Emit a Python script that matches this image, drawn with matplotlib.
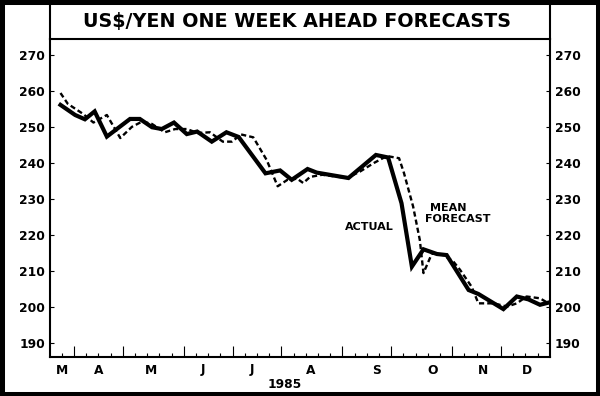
import numpy as np
import matplotlib
matplotlib.use('Agg')
import matplotlib.pyplot as plt
from matplotlib import transforms
from matplotlib.patches import Rectangle
from matplotlib.lines import Line2D

# weeks counted from mid March 1985, yen per US$
actual_week = [-0.1, 1.1, 1.9, 2.7, 3.7, 5.6, 6.4, 7.4, 8.2, 9.2, 10.25, 11.1, 12.3, 13.5,
               14.5, 16.7, 17.9, 18.85, 20.15, 20.9, 23.5, 25.75, 26.75, 27.85, 28.7, 29.65,
               30.75, 31.55, 33.35, 34.15, 36.2, 37.3, 38.25, 39.2, 39.9]
actual_rate = [256.1, 253.3, 252.1, 254.3, 247.3, 252.2, 252.2, 249.9, 249.4, 251.2, 248.0, 248.7,
               245.9, 248.5, 247.2, 237.1, 237.9, 235.3, 238.3, 237.3, 235.8, 242.2, 241.5, 228.8,
               211.2, 216.0, 214.7, 214.4, 204.7, 203.6, 199.4, 202.9, 202.1, 200.6, 201.2]

forecast_week = [-0.1, 0.5, 1.75, 2.6, 3.7, 4.8, 5.75, 6.6, 7.4, 8.45, 9.3, 10.25, 11.15, 12.15,
                 13.2, 13.95, 14.7, 15.7, 16.8, 17.7, 18.5, 19.3, 19.8, 20.35, 21.35, 23.4, 24.45,
                 25.6, 26.65, 27.65, 28.05, 28.8, 29.35, 29.65, 30.35, 31.3, 32.1, 32.65, 33.6,
                 34.15, 35.4, 36.5, 37.3, 38.1, 39.2, 39.85]
forecast_rate = [259.4, 256.4, 253.6, 251.2, 253.3, 246.9, 250.0, 251.5, 250.8, 248.5, 249.4, 249.4,
                 248.3, 248.5, 245.9, 245.9, 247.9, 247.1, 240.8, 233.5, 235.3, 235.6, 234.4, 236.1,
                 236.7, 235.8, 237.6, 240.0, 241.9, 241.3, 237.2, 227.9, 218.6, 209.4, 214.9, 214.4,
                 212.6, 210.3, 205.6, 201.0, 201.0, 200.1, 201.0, 202.9, 202.4, 201.1]

month_names = ['M', 'A', 'M', 'J', 'J', 'A', 'S', 'O', 'N', 'D']
month_pos = [0, 3, 7.3, 11.6, 15.6, 20.4, 25.8, 30.4, 34.5, 38.1]
month_starts = [1, 5, 10, 14, 18, 23, 27, 32, 36]
week_ticks = np.arange(0, 40)
yen_ticks = np.arange(190, 271, 10)

plt.rcParams['font.family'] = ['DejaVu Sans']

fig = plt.figure(figsize=(6, 3.96), dpi=100)
ax = fig.add_axes([50/600, 1-357/396, 500/600, 318/396])

ax.plot(actual_week, actual_rate, color='black', lw=3.0, solid_joinstyle='miter')
ax.plot(forecast_week, forecast_rate, color='black', lw=1.7, dashes=(2.2, 1.3))

ax.set_xlim(-0.96, 40.02)
ax.set_ylim(186.1, 274.4)

for s in ax.spines.values():
    s.set_linewidth(1.5)

ax.set_yticks(yen_ticks)
ax.tick_params(axis='y', direction='in', length=3, width=0.8, left=True, right=True,
               labelleft=True, labelright=True, labelsize=8.8, pad=3.5)
for lbl in ax.get_yticklabels():
    lbl.set_fontweight('bold')

ax.set_xticks(month_starts)
ax.set_xticks(week_ticks, minor=True)
ax.set_xticklabels([])
ax.tick_params(axis='x', which='major', direction='in', length=8, width=0.8)
ax.tick_params(axis='x', which='minor', direction='in', length=3, width=0.8)

# month letters and year under the axis
trans = transforms.blended_transform_factory(ax.transData, fig.transFigure)
for name, pos in zip(month_names, month_pos):
    ax.text(pos, 1-370/396, name, transform=trans, ha='center', va='center',
            fontsize=8.8, fontweight='bold')
fig.text(285/600, 1-385/396, '1985', ha='center', va='center', fontsize=8.8, fontweight='bold')

ax.text(25.2, 222.1, 'ACTUAL', ha='center', va='center', fontsize=8, fontweight='bold')
ax.text(31.65, 227.6, 'MEAN', ha='center', va='center', fontsize=8, fontweight='bold')
ax.text(32.5, 224.4, 'FORECAST', ha='center', va='center', fontsize=8, fontweight='bold')

# title box and outer frame
fig.text(297/600, 1-22/396, 'US$/YEN ONE WEEK AHEAD FORECASTS', ha='center', va='center',
         fontsize=13.8, fontweight='bold')
for xf in [50/600, 550/600]:
    fig.add_artist(Line2D([xf, xf], [1-39/396, 1.0], color='black', lw=1.5))
fig.add_artist(Rectangle((0, 0), 1, 1, transform=fig.transFigure, fill=False,
                         ec='black', lw=6.5))

fig.savefig('out.png', dpi=100)
